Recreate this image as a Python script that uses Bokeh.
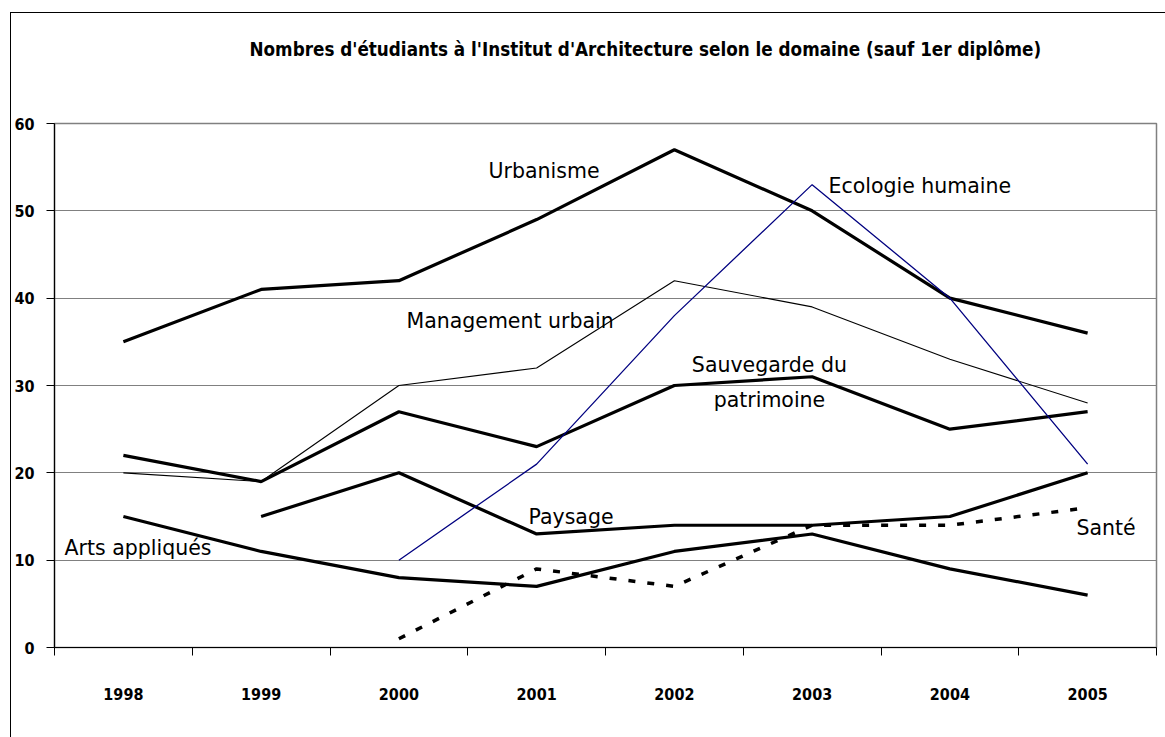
import numpy as np
from bokeh.plotting import figure
from bokeh.models import Label, FixedTicker, Range1d, Title
from bokeh.embed import file_html
from bokeh.resources import INLINE

# ---- data ----
years = ["1998", "1999", "2000", "2001", "2002", "2003", "2004", "2005"]
urbanisme = [35, 41, 42, 49, 57, 50, 40, 36]
ecologie_humaine = [None, None, 10, 21, 38, 53, 40, 21]
management_urbain = [20, 19, 30, 32, 42, 39, 33, 28]
sauvegarde = [22, 19, 27, 23, 30, 31, 25, 27]
paysage = [None, 15, 20, 13, 14, 14, 15, 20]
arts_appliques = [15, 11, 8, 7, 11, 13, 9, 6]
sante = [None, None, 1, 9, 7, 14, 14, 16]
y_ticks = [0, 10, 20, 30, 40, 50, 60]

title_text = "Nombres d'étudiants à l'Institut d'Architecture selon le domaine (sauf 1er diplôme)"

def arr(v):
    return np.array([np.nan if a is None else a for a in v], dtype=float)

xc = np.arange(len(years)) + 0.5

COND = "'Liberation Sans Narrow', 'DejaVu Sans Condensed', sans-serif"
LBL = "DejaVu Sans"

p = figure(
    output_backend="svg", toolbar_location=None,
    x_range=Range1d(0, len(years)), y_range=Range1d(0, 60),
    frame_width=1102, frame_height=524,
    min_border_left=42, min_border_right=10, min_border_top=110, min_border_bottom=90,
    margin=(12, 0, 0, 10),
    styles={"border-top": "1px solid #000", "border-left": "1px solid #000"},
)

# spacer title (nearest the frame) then the real title above it
p.add_layout(Title(text=" ", text_font_size="10px", standoff=51), "above")
p.add_layout(Title(text=title_text, align="left", offset=195, standoff=0,
                   text_font=COND, text_font_style="bold", text_font_size="18.7px",
                   text_color="black"), "above")

p.background_fill_color = "white"
p.border_fill_color = "white"
p.outline_line_color = "#808080"
p.outline_line_width = 1.5

# grids
p.xgrid.grid_line_color = None
p.ygrid.grid_line_color = "#808080"
p.ygrid.grid_line_width = 1.2
p.ygrid.ticker = FixedTicker(ticks=y_ticks)

# y axis
p.yaxis.ticker = FixedTicker(ticks=y_ticks)
p.yaxis.axis_line_color = "black"
p.yaxis.axis_line_width = 1.2
p.yaxis.major_tick_out = 8
p.yaxis.major_tick_in = 0
p.yaxis.minor_tick_line_color = None
p.yaxis.major_label_standoff = 12
p.yaxis.major_label_text_font = COND
p.yaxis.major_label_text_font_style = "bold"
p.yaxis.major_label_text_font_size = "16px"
p.yaxis.major_label_text_color = "black"

# x axis
p.xaxis.ticker = FixedTicker(ticks=list(xc), minor_ticks=list(range(len(years) + 1)))
p.xaxis.major_label_overrides = {float(x): y for x, y in zip(xc, years)}
p.xaxis.axis_line_color = "black"
p.xaxis.axis_line_width = 1.2
p.xaxis.major_tick_out = 0
p.xaxis.major_tick_in = 0
p.xaxis.minor_tick_out = 8
p.xaxis.minor_tick_in = 0
p.xaxis.minor_tick_line_color = "black"
p.xaxis.major_label_standoff = 32
p.xaxis.major_label_text_font = COND
p.xaxis.major_label_text_font_style = "bold"
p.xaxis.major_label_text_font_size = "16px"
p.xaxis.major_label_text_color = "black"

# lines
p.line(xc, arr(management_urbain), line_color="black", line_width=1.1)
p.line(xc, arr(urbanisme), line_color="black", line_width=3.2)
p.line(xc, arr(sauvegarde), line_color="black", line_width=3.2)
p.line(xc, arr(paysage), line_color="black", line_width=3.2)
p.line(xc, arr(arts_appliques), line_color="black", line_width=3.2)
p.line(xc, arr(sante), line_color="black", line_width=3.5, line_dash="7 12")
p.line(xc, arr(ecologie_humaine), line_color="#000080", line_width=1.3)

# labels
def lab(x, y, t, align="left"):
    p.add_layout(Label(x=x, y=y, text=t, text_font=LBL, text_font_size="20.5px",
                       text_align=align, text_baseline="middle", text_color="black"))

lab(3.554, 54.6, "Urbanisme", "center")
lab(5.619, 52.9, "Ecologie humaine")
lab(2.555, 37.4, "Management urbain")
lab(5.19, 32.3, "Sauvegarde du", "center")
lab(5.19, 28.3, "patrimoine", "center")
lab(3.441, 15.0, "Paysage")
lab(0.073, 11.45, "Arts appliqués")
lab(7.419, 13.74, "Santé")

open("out.html", "w").write(file_html(p, INLINE))
